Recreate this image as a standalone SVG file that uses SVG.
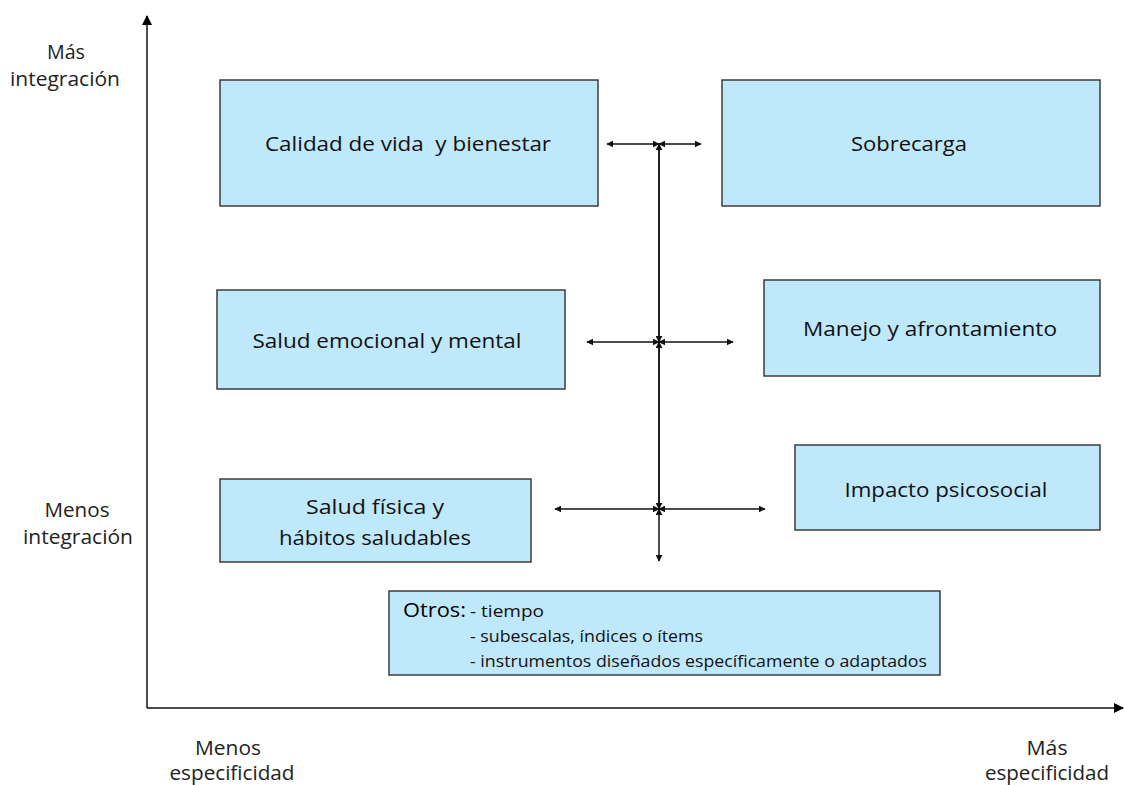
<svg xmlns="http://www.w3.org/2000/svg" width="1124" height="785" viewBox="0 0 1124 785">
<style>
.box{fill:#BFE8FB;stroke:#3C3C3C;stroke-width:1.5}
.t{font-family:"Open Sans","Liberation Sans",sans-serif;font-size:20.5px;fill:#111;text-anchor:middle;white-space:pre}
.ax{font-family:"Open Sans","Liberation Sans",sans-serif;font-size:20px;fill:#222;text-anchor:middle}
.s{font-family:"Open Sans","Liberation Sans",sans-serif;font-size:16.5px;fill:#111}
.ln{stroke:#111;stroke-width:1.5;fill:none}
</style>
<defs>
<marker id="ah" viewBox="0 0 10 10" refX="9" refY="5" markerWidth="7" markerHeight="7" orient="auto-start-reverse" markerUnits="userSpaceOnUse">
<path d="M0,0 L10,5 L0,10 z" fill="#111"/>
</marker>
<marker id="big" viewBox="0 0 10 10" refX="9" refY="5" markerWidth="10" markerHeight="10" orient="auto" markerUnits="userSpaceOnUse">
<path d="M0,0 L10,5 L0,10 z" fill="#000"/>
</marker>
</defs>
<rect width="1124" height="785" fill="#fff"/>
<g id="axes">
<line class="ln" x1="147" y1="708" x2="147" y2="16" marker-end="url(#big)"/>
<line class="ln" x1="147" y1="708" x2="1123" y2="708" marker-end="url(#big)"/>
<text class="ax" x="66" y="59" textLength="38" lengthAdjust="spacingAndGlyphs">Más</text>
<text class="ax" x="65" y="86" textLength="110" lengthAdjust="spacingAndGlyphs">integración</text>
<text class="ax" x="77" y="517" textLength="65" lengthAdjust="spacingAndGlyphs">Menos</text>
<text class="ax" x="78" y="544" textLength="110" lengthAdjust="spacingAndGlyphs">integración</text>
<text class="ax" x="228" y="755" textLength="66" lengthAdjust="spacingAndGlyphs">Menos</text>
<text class="ax" x="232" y="780" textLength="125" lengthAdjust="spacingAndGlyphs">especificidad</text>
<text class="ax" x="1047" y="755" textLength="41" lengthAdjust="spacingAndGlyphs">Más</text>
<text class="ax" x="1047" y="780" textLength="124" lengthAdjust="spacingAndGlyphs">especificidad</text>
</g>
<g id="calidad">
<rect class="box" x="220" y="80" width="378" height="126"/>
<text class="t" x="408" y="151" textLength="286" lengthAdjust="spacingAndGlyphs">Calidad de vida  y bienestar</text>
</g>
<g id="sobrecarga">
<rect class="box" x="722" y="80" width="378" height="126"/>
<text class="t" x="909" y="151" textLength="116" lengthAdjust="spacingAndGlyphs">Sobrecarga</text>
</g>
<g id="emocional">
<rect class="box" x="217" y="290" width="348" height="99"/>
<text class="t" x="387" y="348" textLength="269" lengthAdjust="spacingAndGlyphs">Salud emocional y mental</text>
</g>
<g id="manejo">
<rect class="box" x="764" y="280" width="336" height="96"/>
<text class="t" x="930" y="336" textLength="254" lengthAdjust="spacingAndGlyphs">Manejo y afrontamiento</text>
</g>
<g id="fisica">
<rect class="box" x="220" y="479" width="311" height="83"/>
<text class="t" x="375" y="514" textLength="138" lengthAdjust="spacingAndGlyphs">Salud física y</text>
<text class="t" x="375" y="545" textLength="192" lengthAdjust="spacingAndGlyphs">hábitos saludables</text>
</g>
<g id="impacto">
<rect class="box" x="795" y="445" width="305" height="85"/>
<text class="t" x="946" y="497" textLength="203" lengthAdjust="spacingAndGlyphs">Impacto psicosocial</text>
</g>
<g id="otros">
<rect class="box" x="389" y="591" width="551" height="84"/>
<text x="403" y="617" textLength="63" lengthAdjust="spacingAndGlyphs" style="font-family:'Open Sans','Liberation Sans',sans-serif;font-size:20px;fill:#000">Otros:</text>
<text class="s" x="470" y="617" textLength="74" lengthAdjust="spacingAndGlyphs">- tiempo</text>
<text class="s" x="470" y="642" textLength="233" lengthAdjust="spacingAndGlyphs">- subescalas, índices o ítems</text>
<text class="s" x="470" y="667" textLength="457" lengthAdjust="spacingAndGlyphs">- instrumentos diseñados específicamente o adaptados</text>
</g>
<g id="connectors">
<line class="ln" x1="607" y1="144" x2="659" y2="144" marker-start="url(#ah)" marker-end="url(#ah)"/>
<line class="ln" x1="701" y1="144" x2="659" y2="144" marker-start="url(#ah)" marker-end="url(#ah)"/>
<line class="ln" x1="587" y1="342" x2="659" y2="342" marker-start="url(#ah)" marker-end="url(#ah)"/>
<line class="ln" x1="733" y1="342" x2="659" y2="342" marker-start="url(#ah)" marker-end="url(#ah)"/>
<line class="ln" x1="555" y1="509" x2="659" y2="509" marker-start="url(#ah)" marker-end="url(#ah)"/>
<line class="ln" x1="765" y1="509" x2="659" y2="509" marker-start="url(#ah)" marker-end="url(#ah)"/>
<line class="ln" x1="659" y1="342" x2="659" y2="144" marker-end="url(#ah)"/>
<line class="ln" x1="659" y1="144" x2="659" y2="342" marker-end="url(#ah)"/>
<line class="ln" x1="659" y1="509" x2="659" y2="342" marker-end="url(#ah)"/>
<line class="ln" x1="659" y1="342" x2="659" y2="509" marker-end="url(#ah)"/>
<line class="ln" x1="659" y1="509" x2="659" y2="561" marker-start="url(#ah)" marker-end="url(#ah)"/>
</g>
</svg>
